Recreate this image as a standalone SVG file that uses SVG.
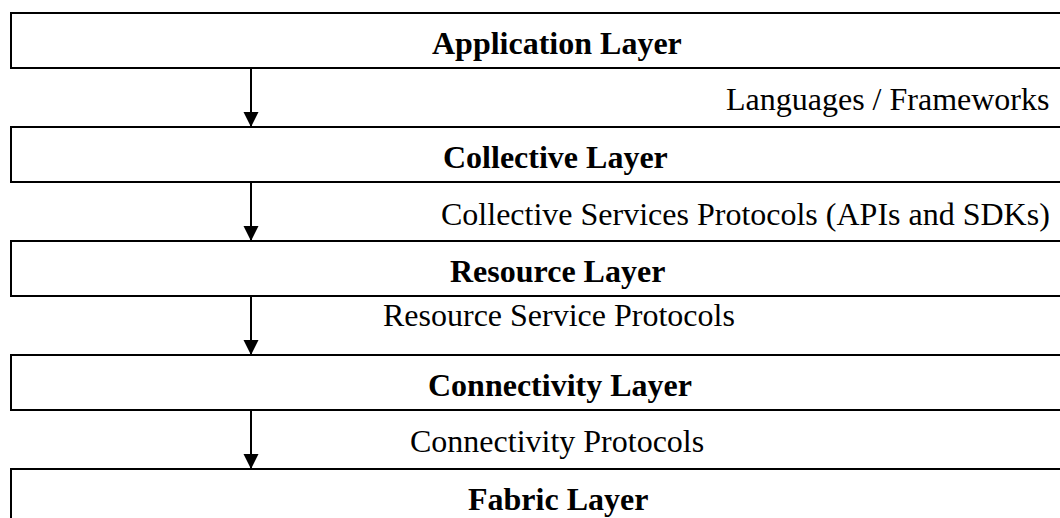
<svg xmlns="http://www.w3.org/2000/svg" width="1060" height="518" viewBox="0 0 1060 518">
  <style>
    .layer { fill: #ffffff; stroke: #000000; stroke-width: 2; }
    .title { font-family: "Liberation Serif", "Times New Roman", serif; font-size: 32px; font-weight: bold; fill: #000000; }
    .proto { font-family: "Liberation Serif", "Times New Roman", serif; font-size: 32px; fill: #000000; }
    .flow { stroke: #000000; stroke-width: 2; fill: none; marker-end: url(#arrow); }
  </style>
  <defs>
    <marker id="arrow" markerUnits="userSpaceOnUse" markerWidth="16" markerHeight="16" refX="15" refY="7.5" orient="auto">
      <path d="M0,0 L15,7.5 L0,15 Z" fill="#000000"/>
    </marker>
  </defs>
  <rect x="0" y="0" width="1060" height="518" fill="#ffffff"/>

  <!-- stacked layers, each running off the right edge -->
  <g id="application-layer">
    <rect class="layer" x="11" y="13" width="1100" height="55"/>
    <text class="title" x="432" y="54">Application Layer</text>
  </g>
  <g id="collective-layer">
    <rect class="layer" x="11" y="127" width="1100" height="55"/>
    <text class="title" x="443" y="168">Collective Layer</text>
  </g>
  <g id="resource-layer">
    <rect class="layer" x="11" y="241" width="1100" height="55"/>
    <text class="title" x="450" y="282">Resource Layer</text>
  </g>
  <g id="connectivity-layer">
    <rect class="layer" x="11" y="355" width="1100" height="55"/>
    <text class="title" x="428" y="396">Connectivity Layer</text>
  </g>
  <g id="fabric-layer">
    <rect class="layer" x="11" y="469" width="1100" height="80"/>
    <text class="title" x="468" y="510">Fabric Layer</text>
  </g>

  <!-- downward links between layers -->
  <g id="connectors">
    <line class="flow" x1="251" y1="68" x2="251" y2="127"/>
    <line class="flow" x1="251" y1="182" x2="251" y2="241"/>
    <line class="flow" x1="251" y1="296" x2="251" y2="355"/>
    <line class="flow" x1="251" y1="410" x2="251" y2="469"/>
  </g>

  <!-- interface labels between layers -->
  <g id="interface-labels">
    <text class="proto" x="726" y="110">Languages / Frameworks</text>
    <text class="proto" x="441" y="225">Collective Services Protocols (APIs and SDKs)</text>
    <text class="proto" x="383" y="326">Resource Service Protocols</text>
    <text class="proto" x="410" y="452">Connectivity Protocols</text>
  </g>
</svg>
